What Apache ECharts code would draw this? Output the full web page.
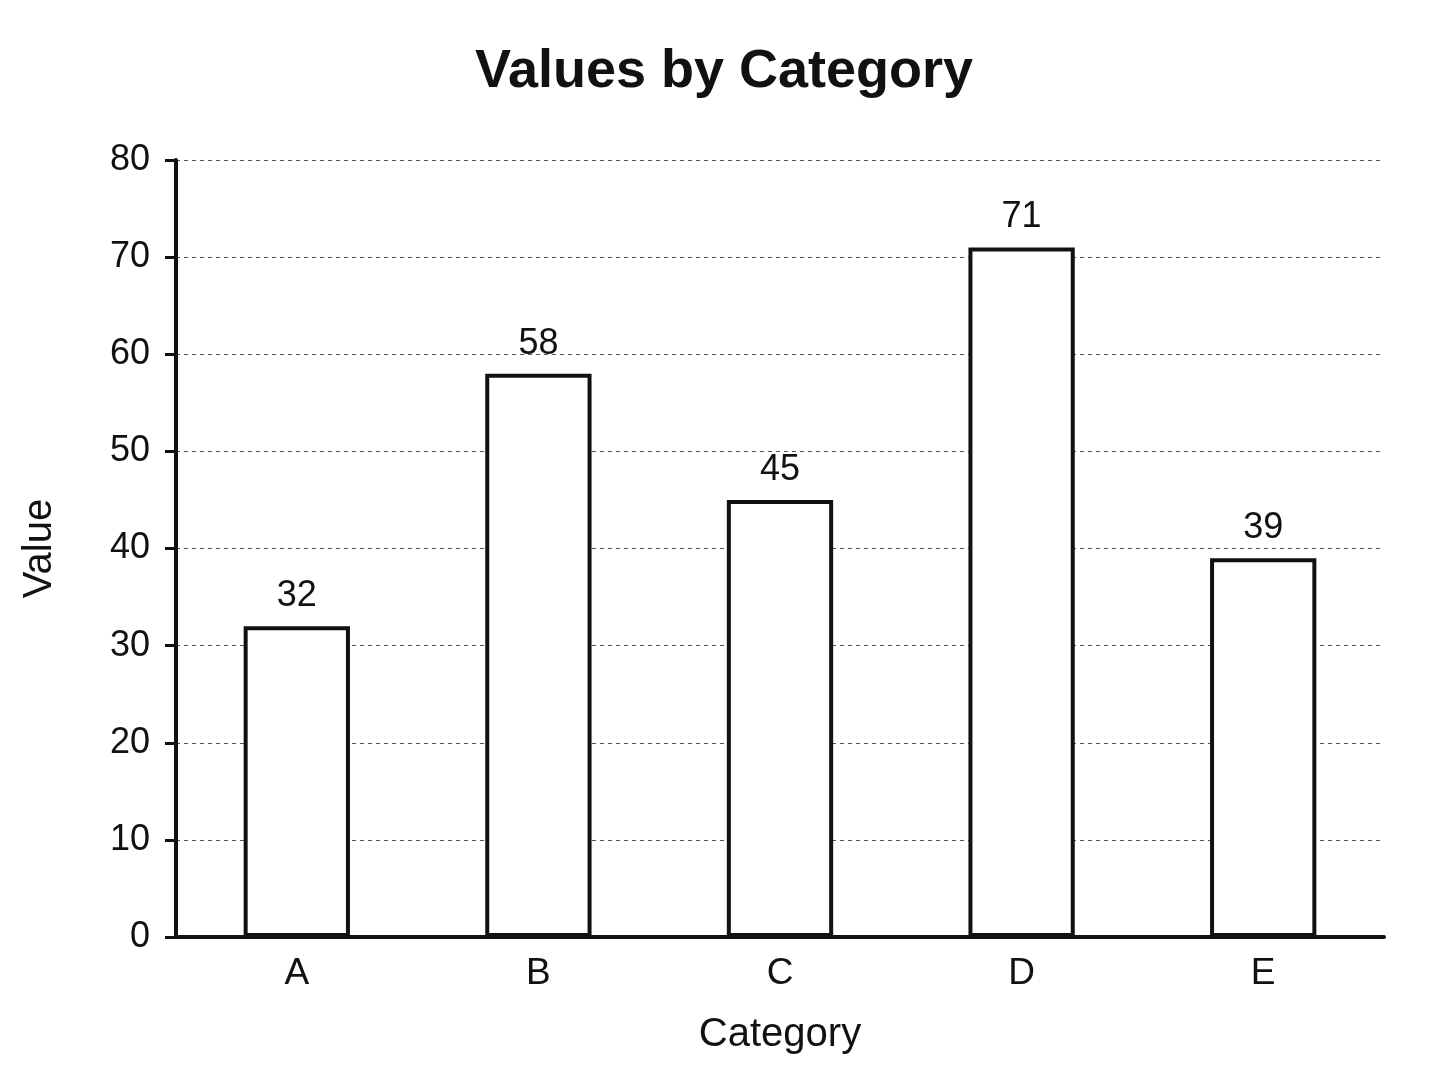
<!DOCTYPE html>
<html><head><meta charset="utf-8">
<script src="https://cdn.jsdelivr.net/npm/echarts@6/dist/echarts.min.js"></script>
<style>html,body{margin:0;padding:0;background:#fff}#c{width:1448px;height:1086px}</style>
</head><body><div id="c"></div>
<script>
const categories = ['A','B','C','D','E'];
const values = [32,58,45,71,39];
const yTicks = [0,10,20,30,40,50,60,70,80];
const font = 'Liberation Sans, Arial, sans-serif';
const chart = echarts.init(document.getElementById('c'));
chart.setOption({
  backgroundColor:'#fff',
  animation:false,
  title:{text:'Values by Category',left:'center',top:40,textStyle:{fontFamily:font,fontSize:54,fontWeight:'bold',color:'#111'}},
  grid:{left:176,right:64,top:160,bottom:149},
  xAxis:{type:'category',data:categories,
    axisLine:{lineStyle:{color:'#111',width:4}},axisTick:{show:false},
    axisLabel:{fontFamily:font,fontSize:37,color:'#111',margin:18},
    name:'Category',nameLocation:'middle',nameGap:78,nameTextStyle:{fontFamily:font,fontSize:40,color:'#111'}},
  yAxis:{type:'value',min:yTicks[0],max:yTicks[yTicks.length-1],interval:10,
    axisLine:{show:true,lineStyle:{color:'#111',width:4}},
    axisTick:{show:true,length:11,lineStyle:{color:'#111',width:3}},
    axisLabel:{fontFamily:font,fontSize:36,color:'#111',margin:26},
    splitLine:{lineStyle:{color:'#555',type:[4,4],width:1}},
    name:'Value',nameLocation:'middle',nameGap:116,nameTextStyle:{fontFamily:font,fontSize:40,color:'#111'}},
  series:[{type:'bar',data:values,barWidth:'44%',
    itemStyle:{color:'#fff',borderColor:'#111',borderWidth:4},
    label:{show:true,position:'top',distance:12,fontFamily:font,fontSize:36,color:'#111'}}]
});
</script></body></html>
